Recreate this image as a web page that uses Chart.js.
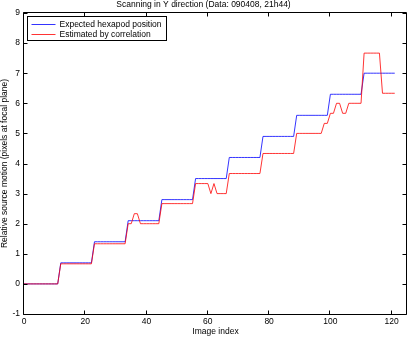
<!DOCTYPE html>
<html>
<head>
<meta charset="utf-8">
<script src="https://cdn.jsdelivr.net/npm/chart.js@4.4.1/dist/chart.umd.min.js"></script>
<style>
html, body { margin: 0; padding: 0; background: #fff; }
</style>
</head>
<body>
<canvas id="scanChart" width="407" height="337"></canvas>
<script>
// image index 0..121
const imageIndex = [
  0, 1, 2, 3, 4, 5, 6, 7, 8, 9, 10, 11, 12, 13, 14, 15, 16, 17, 18, 19,
  20, 21, 22, 23, 24, 25, 26, 27, 28, 29, 30, 31, 32, 33, 34, 35, 36, 37, 38, 39,
  40, 41, 42, 43, 44, 45, 46, 47, 48, 49, 50, 51, 52, 53, 54, 55, 56, 57, 58, 59,
  60, 61, 62, 63, 64, 65, 66, 67, 68, 69, 70, 71, 72, 73, 74, 75, 76, 77, 78, 79,
  80, 81, 82, 83, 84, 85, 86, 87, 88, 89, 90, 91, 92, 93, 94, 95, 96, 97, 98, 99,
  100, 101, 102, 103, 104, 105, 106, 107, 108, 109, 110, 111, 112, 113, 114, 115, 116, 117, 118, 119,
  120, 121
];

// expected hexapod position (pixels)
const expectedPos = [
  0, 0, 0, 0, 0, 0, 0, 0, 0, 0, 0, 0,
  0.7, 0.7, 0.7, 0.7, 0.7, 0.7, 0.7, 0.7, 0.7, 0.7, 0.7,
  1.4, 1.4, 1.4, 1.4, 1.4, 1.4, 1.4, 1.4, 1.4, 1.4, 1.4,
  2.1, 2.1, 2.1, 2.1, 2.1, 2.1, 2.1, 2.1, 2.1, 2.1, 2.1,
  2.8, 2.8, 2.8, 2.8, 2.8, 2.8, 2.8, 2.8, 2.8, 2.8, 2.8,
  3.5, 3.5, 3.5, 3.5, 3.5, 3.5, 3.5, 3.5, 3.5, 3.5, 3.5,
  4.2, 4.2, 4.2, 4.2, 4.2, 4.2, 4.2, 4.2, 4.2, 4.2, 4.2,
  4.9, 4.9, 4.9, 4.9, 4.9, 4.9, 4.9, 4.9, 4.9, 4.9, 4.9,
  5.6, 5.6, 5.6, 5.6, 5.6, 5.6, 5.6, 5.6, 5.6, 5.6, 5.6,
  6.3, 6.3, 6.3, 6.3, 6.3, 6.3, 6.3, 6.3, 6.3, 6.3, 6.3,
  7.0, 7.0, 7.0, 7.0, 7.0, 7.0, 7.0, 7.0, 7.0, 7.0, 7.0
];

// estimated by correlation (pixels)
const estimatedPos = [
  0, 0, 0, 0, 0, 0, 0, 0, 0, 0, 0, 0,
  0.667, 0.667, 0.667, 0.667, 0.667, 0.667, 0.667, 0.667, 0.667, 0.667, 0.667,
  1.333, 1.333, 1.333, 1.333, 1.333, 1.333, 1.333, 1.333, 1.333, 1.333, 1.333,
  2, 2, 2.333, 2.333, 2, 2, 2, 2, 2, 2, 2,
  2.667, 2.667, 2.667, 2.667, 2.667, 2.667, 2.667, 2.667, 2.667, 2.667, 2.667,
  3.333, 3.333, 3.333, 3.333, 3.333, 3, 3.333, 3, 3, 3, 3,
  3.667, 3.667, 3.667, 3.667, 3.667, 3.667, 3.667, 3.667, 3.667, 3.667, 3.667,
  4.333, 4.333, 4.333, 4.333, 4.333, 4.333, 4.333, 4.333, 4.333, 4.333, 4.333,
  5, 5, 5, 5, 5, 5, 5, 5, 5, 5.333, 5.333,
  5.667, 5.667, 6, 6, 5.667, 5.667, 6, 6, 6, 6, 6,
  7.667, 7.667, 7.667, 7.667, 7.667, 7.667, 6.333, 6.333, 6.333, 6.333, 6.333
];

const xTickValues = [0, 20, 40, 60, 80, 100, 120];
const yTickValues = [-1, 0, 1, 2, 3, 4, 5, 6, 7, 8, 9];

const FONT = '"Liberation Sans", Arial, Helvetica, sans-serif';

// matlab style box with inward ticks, plus boxed legend in upper left
const matlabAxes = {
  id: 'matlabAxes',
  afterDatasetsDraw(chart) {
    const ctx = chart.ctx;
    const a = chart.chartArea;
    const xs = chart.scales.x;
    const ys = chart.scales.y;
    const L = Math.round(a.left) - 0.5;
    const R = Math.round(a.right) - 0.5;
    const T = Math.round(a.top) - 0.5;
    const B = Math.round(a.bottom) + 0.5;
    const tl = 4;
    ctx.save();
    ctx.strokeStyle = '#000';
    ctx.lineWidth = 1;
    ctx.beginPath();
    ctx.rect(L, T, R - L, B - T);
    xs.ticks.forEach(t => {
      const px = Math.round(xs.getPixelForValue(t.value)) - 0.5;
      ctx.moveTo(px, B); ctx.lineTo(px, B - tl);
      ctx.moveTo(px, T); ctx.lineTo(px, T + tl);
    });
    ys.ticks.forEach(t => {
      const py = Math.round(ys.getPixelForValue(t.value)) + 0.5;
      ctx.moveTo(L, py); ctx.lineTo(L + tl, py);
      ctx.moveTo(R, py); ctx.lineTo(R - tl, py);
    });
    ctx.stroke();

    // legend
    const lx = L + 4, ly = T + 4, lw = 139, lh = 24;
    ctx.fillStyle = '#fff';
    ctx.fillRect(lx, ly, lw, lh);
    ctx.strokeRect(lx, ly, lw, lh);
    ctx.font = '8.5px ' + FONT;
    ctx.textBaseline = 'middle';
    ctx.textAlign = 'left';
    const legendOrder = [1, 0];
    legendOrder.forEach((di, i) => {
      const ds = chart.data.datasets[di];
      const yy = Math.round(ly + 7 + i * 10) + 0.5;
      ctx.strokeStyle = ds.borderColor;
      ctx.lineWidth = ds.borderWidth;
      ctx.beginPath();
      ctx.moveTo(lx + 4, yy);
      ctx.lineTo(lx + 28, yy);
      ctx.stroke();
      ctx.fillStyle = '#000';
      ctx.fillText(ds.label, lx + 32, yy);
    });
    ctx.restore();
  }
};

new Chart(document.getElementById('scanChart'), {
  type: 'line',
  data: {
    labels: imageIndex,
    datasets: [{
      label: 'Estimated by correlation',
      data: estimatedPos,
      borderColor: 'rgb(255,0,0)',
      borderWidth: 0.8,
      pointRadius: 0,
      tension: 0,
      order: 0
    }, {
      label: 'Expected hexapod position',
      data: expectedPos,
      borderColor: 'rgb(0,0,255)',
      borderWidth: 0.8,
      pointRadius: 0,
      tension: 0,
      order: 1
    }]
  },
  options: {
    responsive: false,
    animation: false,
    events: [],
    layout: { padding: { top: 0, right: 0, bottom: 0, left: 0 } },
    plugins: {
      legend: { display: false },
      tooltip: { enabled: false },
      title: {
        display: true,
        text: 'Scanning in Y direction (Data: 090408, 21h44)',
        color: '#000',
        font: { family: FONT, size: 8.5, weight: 'normal', lineHeight: 1 },
        padding: { top: 0, bottom: 4.5 }
      }
    },
    scales: {
      x: {
        type: 'linear',
        min: 0,
        max: 125,
        afterBuildTicks: s => { s.ticks = xTickValues.map(v => ({ value: v })); },
        afterFit: s => { s.height = 23; },
        grid: { display: false, drawTicks: false },
        border: { display: false },
        ticks: { color: '#000', padding: 3, maxRotation: 0, font: { family: FONT, size: 8.5 } },
        title: {
          display: true,
          text: 'Image index',
          color: '#000',
          font: { family: FONT, size: 8.5, lineHeight: 1.2 },
          padding: { top: 0, bottom: 0.5 }
        }
      },
      y: {
        min: -1,
        max: 9,
        afterBuildTicks: s => { s.ticks = yTickValues.map(v => ({ value: v })); },
        afterFit: s => { s.width = 24; },
        grid: { display: false, drawTicks: false },
        border: { display: false },
        ticks: { color: '#000', padding: 4, font: { family: FONT, size: 8.5 } },
        title: {
          display: true,
          text: 'Relative source motion (pixels at focal plane)',
          color: '#000',
          font: { family: FONT, size: 8.5, lineHeight: 1 },
          padding: { top: 0, bottom: 0 }
        }
      }
    }
  },
  plugins: [matlabAxes]
});
</script>
</body>
</html>
